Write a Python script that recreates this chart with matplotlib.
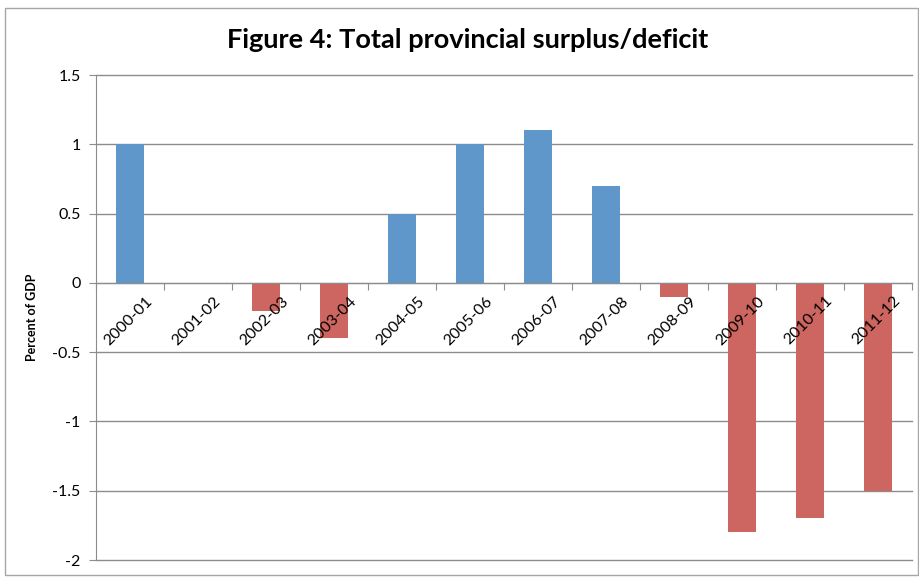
import matplotlib.pyplot as plt
import matplotlib.transforms as mtransforms
from matplotlib.patches import Rectangle
import numpy as np

plt.rcParams['font.family'] = ['Lato', 'DejaVu Sans']

years = ['2000-01', '2001-02', '2002-03', '2003-04', '2004-05', '2005-06',
         '2006-07', '2007-08', '2008-09', '2009-10', '2010-11', '2011-12']
balance = [1.0, 0.0, -0.2, -0.4, 0.5, 1.0, 1.1, 0.7, -0.1, -1.8, -1.7, -1.5]
yticks = [-2, -1.5, -1, -0.5, 0, 0.5, 1, 1.5]
ytick_labels = ['-2', '-1.5', '-1', '-0.5', '0', '0.5', '1', '1.5']

blue = '#6097CB'
red = '#CD6660'
grey = '#8C8C8C'

fig = plt.figure(figsize=(9.2, 5.78), dpi=100)
fig.patches.append(Rectangle((5 / 920, 3 / 578), 913 / 920, 567 / 578,
                             transform=fig.transFigure, fill=False,
                             edgecolor='#A6A6A6', linewidth=1.0))

ax = fig.add_axes([96 / 920, 18 / 578, 816 / 920, 485 / 578])
x = np.arange(len(years))
colors = [blue if v >= 0 else red for v in balance]
ax.bar(x, balance, width=0.4, color=colors, zorder=3)

ax.set_xlim(-0.5, len(years) - 0.5)
ax.set_ylim(-2, 1.5)
ax.set_yticks(yticks)
ax.set_yticklabels(ytick_labels, fontsize=11.5)
ax.yaxis.grid(True, color=grey, linewidth=1.0, zorder=0)
for gl in ax.yaxis.get_gridlines():
    gl.set_clip_on(False)
ax.tick_params(axis='y', length=5, color=grey, pad=6)

# category axis sits on the zero line, labels drawn over the bars
for s in ['top', 'right']:
    ax.spines[s].set_visible(False)
ax.spines['left'].set_color(grey)
ax.spines['bottom'].set_position(('data', 0))
ax.spines['bottom'].set_color(grey)
ax.spines['bottom'].set_zorder(4)
ax.xaxis.set_zorder(5)
ax.set_xticks(np.arange(len(years) + 1) - 0.5)
ax.set_xticklabels([])
ax.tick_params(axis='x', which='major', length=5, color=grey, direction='out')
ax.set_xticks(x, minor=True)
ax.set_xticklabels(years, minor=True, rotation=45, ha='right',
                   rotation_mode='anchor', fontsize=11.5)
ax.tick_params(axis='x', which='minor', length=0, pad=8)
shift = mtransforms.ScaledTranslation(15 / 100, 0, fig.dpi_scale_trans)
for lab in ax.get_xticklabels(minor=True):
    lab.set_transform(lab.get_transform() + shift)

ax.set_ylabel('Percent of GDP', fontsize=9, fontweight='bold', labelpad=10)

fig.text(468 / 920, 1 - 40 / 578, 'Figure 4: Total provincial surplus/deficit',
         ha='center', va='center', fontsize=19.5, fontweight='bold')

fig.savefig('out.png', dpi=100)
